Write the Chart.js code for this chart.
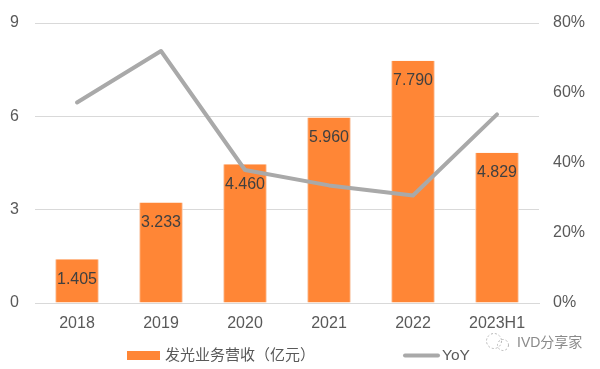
<!DOCTYPE html>
<html><head><meta charset="utf-8">
<style>html,body{margin:0;padding:0;background:#fff}#w{position:relative;width:600px;height:369px}</style>
<script src="https://cdn.jsdelivr.net/npm/chart.js@4"></script>
</head><body><div id="w"><canvas id="c" width="600" height="369"></canvas></div>
<script>
const categories=["2018","2019","2020","2021","2022","2023H1"];
const revenue=[1.405,3.233,4.46,5.96,7.79,4.829];
const revenueLabels=["1.405","3.233","4.460","5.960","7.790","4.829"];
const yoy=[57.3,72,38,33.6,30.7,53.9];
const leftTicks=[0,3,6,9];
const rightTicks=[0,20,40,60,80];
const barName="发光业务营收（亿元）";
const lineName="YoY";
const watermark="IVD分享家";
const FONT='"Liberation Sans","Noto Sans CJK SC",sans-serif';
const TXT='#595959';
const barLabels={id:'barLabels',afterDatasetsDraw(ch){
  const g=ch.ctx,m=ch.getDatasetMeta(1);
  g.save();g.font='16px '+FONT;g.fillStyle='#404040';g.textAlign='center';g.textBaseline='middle';
  m.data.forEach((b,i)=>g.fillText(revenueLabels[i],b.x,b.y+20));
  g.restore();
}};
const legendAndMark={id:'legendAndMark',afterDraw(ch){
  const g=ch.ctx;g.save();
  g.fillStyle='#ff8636';g.fillRect(127,351,33,9);
  g.strokeStyle='#a9a9a9';g.lineWidth=4;g.lineCap='round';
  g.beginPath();g.moveTo(405,355.5);g.lineTo(438,355.5);g.stroke();
  g.lineCap='butt';
  g.font='15px '+FONT;g.fillStyle=TXT;g.textAlign='left';g.textBaseline='middle';
  g.fillText(barName,165,356);
  g.font='15.5px '+FONT;
  g.fillText(lineName,442,356);
  g.font='14px '+FONT;g.fillStyle='#8a8a8a';
  g.fillText(watermark,517,343);
  g.strokeStyle='#b5b5b5';g.lineWidth=1;g.setLineDash([2,2]);
  g.beginPath();g.arc(494,341,7.5,0,Math.PI*2);g.stroke();
  g.beginPath();g.arc(503,345,5.5,0,Math.PI*2);g.stroke();
  g.restore();
}};
function noPad(s){s.paddingTop=0;s.paddingBottom=0;s.paddingLeft=0;s.paddingRight=0;}
new Chart(document.getElementById('c'),{
  data:{labels:categories,datasets:[
    {type:'line',label:lineName,data:yoy,yAxisID:'y2',order:0,borderColor:'#a9a9a9',backgroundColor:'#a9a9a9',borderWidth:4,pointRadius:0,tension:0,borderCapStyle:'round',borderJoinStyle:'round'},
    {type:'bar',label:barName,data:revenue,yAxisID:'y',order:1,backgroundColor:'#ff8636',borderColor:'#f8cdb0',borderWidth:{left:1,right:1,top:0,bottom:0},barPercentage:0.52,categoryPercentage:1}
  ]},
  options:{responsive:false,animation:false,
    layout:{padding:{left:0,right:0,top:23,bottom:36}},
    plugins:{tooltip:{enabled:false},legend:{display:false}},
    scales:{
      x:{grid:{display:false},border:{color:'#d9d9d9',width:1},afterFit(s){s.height=30;noPad(s)},ticks:{color:TXT,font:{family:FONT,size:16},padding:3,maxRotation:0,autoSkip:false}},
      y:{position:'left',min:0,max:9,grid:{color:'#d9d9d9',lineWidth:1,drawTicks:false},border:{display:false},
        afterFit(s){s.width=35;noPad(s)},afterBuildTicks(s){s.ticks=leftTicks.map(v=>({value:v}))},
        ticks:{color:TXT,font:{family:FONT,size:16},padding:16}},
      y2:{position:'right',min:0,max:80,grid:{display:false},border:{display:false},
        afterFit(s){s.width=61;noPad(s)},afterBuildTicks(s){s.ticks=rightTicks.map(v=>({value:v}))},
        ticks:{color:TXT,font:{family:FONT,size:16},padding:6,callback:v=>v+'%'}}
    }
  },
  plugins:[barLabels,legendAndMark]
});
</script></body></html>
